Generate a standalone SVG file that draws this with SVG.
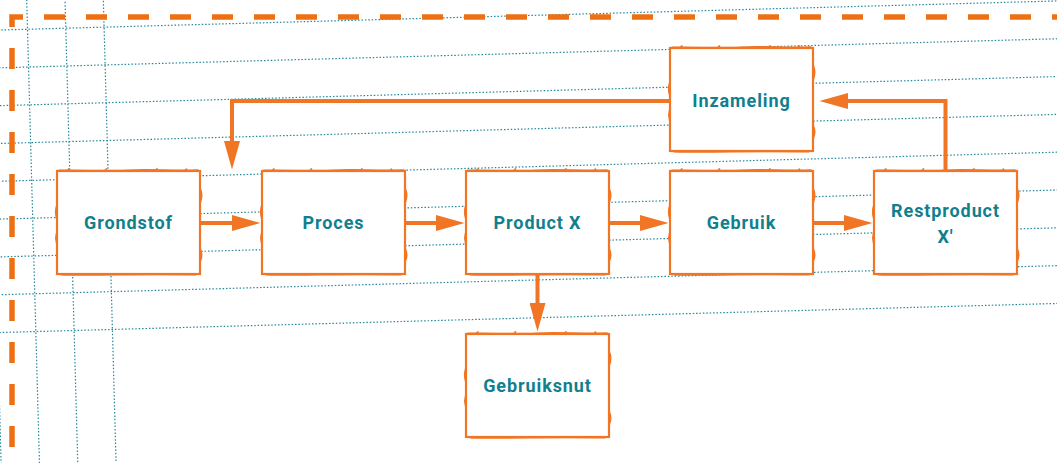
<svg xmlns="http://www.w3.org/2000/svg" xmlns:xlink="http://www.w3.org/1999/xlink" width="1057" height="463" viewBox="0 0 1057 463">
  <style>
    .grid line { stroke: #22889a; stroke-width: 1.2; stroke-dasharray: 1.5 1.9; fill: none; }
    .frame { fill: none; stroke: #ee7015; stroke-width: 5.5; stroke-dasharray: 21 21; stroke-dashoffset: -16; }
    .box { fill: #ffffff; stroke: #f07525; stroke-width: 2.2; }
    .rough { fill: none; stroke: #f07525; stroke-width: 1.6; stroke-linecap: round; }
    .label { font-family: Roboto, "Liberation Sans", sans-serif; font-weight: 700; font-size: 18px; fill: #117f8e; text-anchor: middle; letter-spacing: 0.9px; }
    .conn path { fill: none; stroke: #f07525; stroke-width: 4; marker-end: url(#head); }
  </style>
  <defs>
    <!-- arrowhead: tip sits 18px beyond the end of the line -->
    <marker id="head" markerUnits="userSpaceOnUse" markerWidth="30" markerHeight="16" viewBox="0 0 25 14" refX="7" refY="7" orient="auto">
      <path d="M0,0 L25,7 L0,14 Z" fill="#f07525"/>
    </marker>
    <!-- hand-drawn process box, 143 x 103 -->
    <g id="node">
      <rect class="box" x="0" y="0" width="143" height="103"/>
      <path class="rough" d="M2,-0.6 C25,-1.4 45,0.6 70,-0.8 S115,0.2 141,-0.9"/>
      <path class="rough" d="M10,-0.5 l2,-1.6 M48,-0.4 l1.5,-1.8 M98,-0.5 l2,-1.7 M128,-0.4 l1.5,-1.5"/>
      <path class="rough" d="M143.4,18 q2.6,6 0,13 M143.4,78 q2.6,6 0,12"/>
      <path class="rough" d="M-0.4,35 q-1.8,6 0,12 M-0.4,62 q-1.6,5 0,10"/>
      <path class="rough" d="M4,103.6 C40,104.8 80,102.6 139,103.8"/>
    </g>
  </defs>

  <rect width="1057" height="463" fill="#ffffff"/>

  <!-- dotted background grid, slightly tilted -->
  <g class="grid" transform="rotate(-1.575)">
    <line x1="-20" y1="30" x2="1090" y2="30"/>
    <line x1="-20" y1="67.8" x2="1090" y2="67.8"/>
    <line x1="-20" y1="105.6" x2="1090" y2="105.6"/>
    <line x1="-20" y1="143.4" x2="1090" y2="143.4"/>
    <line x1="-20" y1="181.2" x2="1090" y2="181.2"/>
    <line x1="-20" y1="219" x2="1090" y2="219"/>
    <line x1="-20" y1="256.8" x2="1090" y2="256.8"/>
    <line x1="-20" y1="294.6" x2="1090" y2="294.6"/>
    <line x1="-20" y1="332.4" x2="1090" y2="332.4"/>
    <line x1="-11.6" y1="-10" x2="-11.6" y2="480"/>
    <line x1="26.7" y1="-10" x2="26.7" y2="480"/>
    <line x1="65" y1="-10" x2="65" y2="480"/>
    <line x1="103.3" y1="-10" x2="103.3" y2="480"/>
  </g>

  <!-- dashed outer frame -->
  <path class="frame" d="M12,463 V17 H1060"/>

  <!-- connectors -->
  <g id="connectors" class="conn">
    <path d="M201,223 H240"/>
    <path d="M405,223 H444"/>
    <path d="M609,223 H648"/>
    <path d="M813,223 H852"/>
    <path d="M537.5,274 V311"/>
    <path d="M670,101 H232 V149"/>
    <path d="M945.5,171 V101 H840"/>
  </g>

  <!-- nodes -->
  <g id="grondstof">
    <use xlink:href="#node" x="57" y="171"/>
    <text class="label" x="128.5" y="229">Grondstof</text>
  </g>
  <g id="proces">
    <use xlink:href="#node" x="262" y="171"/>
    <text class="label" x="333.5" y="229">Proces</text>
  </g>
  <g id="product-x">
    <use xlink:href="#node" x="466" y="171"/>
    <text class="label" x="537.5" y="229">Product X</text>
  </g>
  <g id="gebruik">
    <use xlink:href="#node" x="670" y="171"/>
    <text class="label" x="741.5" y="229">Gebruik</text>
  </g>
  <g id="restproduct">
    <use xlink:href="#node" x="874" y="171"/>
    <text class="label" x="945.5" y="217">Restproduct</text>
    <text class="label" x="945.5" y="242.5">X′</text>
  </g>
  <g id="inzameling">
    <use xlink:href="#node" x="670" y="48"/>
    <text class="label" x="741.5" y="106.5">Inzameling</text>
  </g>
  <g id="gebruiksnut">
    <use xlink:href="#node" x="466" y="334"/>
    <text class="label" x="537.5" y="392">Gebruiksnut</text>
  </g>
</svg>
